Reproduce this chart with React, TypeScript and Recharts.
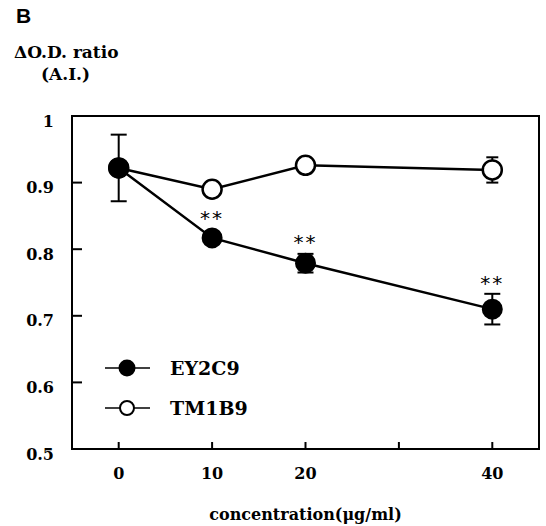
import {
  ComposedChart,
  Line,
  Scatter,
  XAxis,
  YAxis,
  ErrorBar,
  ReferenceArea,
  Legend,
} from 'recharts';

const conc = [0, 10, 20, 40];
const ey2c9 = [0.922, 0.817, 0.779, 0.71];
const ey2c9Err = [0.05, 0.008, 0.014, 0.023];
const tm1b9 = [0.922, 0.89, 0.926, 0.919];
const tm1b9Err = [0, 0.006, 0.006, 0.019];
const starConc = [10, 20, 40];
const starLevel = [0.847, 0.811, 0.749];
const xTicks = [0, 10, 20, 30, 40];
const xTickLabels = ['0', '10', '20', '', '40'];
const yTicks = [0.5, 0.6, 0.7, 0.8, 0.9, 1];
const yTickLabels = ['0.5', '0.6', '0.7', '0.8', '0.9', '1'];
const seriesNames = ['EY2C9', 'TM1B9'];

const SERIF = '"DejaVu Serif", serif';

const rows = conc.map((c, i) => ({
  x: c,
  ey: ey2c9[i],
  eyErr: ey2c9Err[i],
  tm: tm1b9[i],
  tmErr: tm1b9Err[i],
}));
const starRows = starConc.map((c, i) => ({ x: c, y: starLevel[i] }));

const StarShape = (props: any) => (
  <text
    x={props.cx}
    y={props.cy}
    textAnchor="middle"
    dominantBaseline="central"
    fontFamily='"DejaVu Sans", sans-serif'
    fontSize={20}
    letterSpacing={2}
    fill="#000"
  >
    **
  </text>
);

const renderLegend = () => (
  <svg width={170} height={76}>
    {seriesNames.map((name, i) => {
      const cy = 18 + i * 40;
      return (
        <g key={name}>
          <line x1={5} x2={50} y1={cy} y2={cy} stroke="#000" strokeWidth={1.5} />
          <circle
            cx={27}
            cy={cy}
            r={i === 0 ? 7.5 : 7}
            fill={i === 0 ? '#000' : '#fff'}
            stroke="#000"
            strokeWidth={2}
          />
          <text
            x={70}
            y={cy}
            dominantBaseline="central"
            fontFamily={SERIF}
            fontWeight="bold"
            fontSize={19}
            fill="#000"
          >
            {name}
          </text>
        </g>
      );
    })}
  </svg>
);

export default function App() {
  return (
    <div style={{ position: 'absolute', left: 0, top: 0, width: 546, height: 526, background: '#fff' }}>
      <div style={{ position: 'absolute', left: 16, top: 4, font: 'bold 21px "Liberation Sans", Arial, sans-serif' }}>B</div>
      <div style={{ position: 'absolute', left: 14, top: 42, font: `bold 17px ${SERIF}` }}>ΔO.D. ratio</div>
      <div style={{ position: 'absolute', left: 41, top: 64, font: `bold 17px ${SERIF}` }}>(A.I.)</div>
      <ComposedChart
        width={546}
        height={526}
        data={rows}
        margin={{ top: 116, right: 7, bottom: 0, left: 0 }}
      >
        <XAxis
          type="number"
          dataKey="x"
          domain={[-5, 45]}
          ticks={xTicks}
          tickFormatter={(v) => xTickLabels[xTicks.indexOf(v)]}
          height={77}
          tickSize={-7}
          tickMargin={26}
          stroke="#000"
          strokeWidth={2}
          tick={{ fill: '#000', fontFamily: SERIF, fontWeight: 'bold', fontSize: 16 }}
          label={{
            value: 'concentration(μg/ml)',
            position: 'insideBottom',
            offset: 6,
            fill: '#000',
            fontFamily: SERIF,
            fontWeight: 'bold',
            fontSize: 16,
          }}
        />
        <YAxis
          type="number"
          domain={[0.5, 1]}
          ticks={yTicks}
          tickFormatter={(v) => yTickLabels[yTicks.indexOf(v)]}
          width={72}
          tickSize={-10}
          tickMargin={28}
          stroke="#000"
          strokeWidth={2}
          tick={{ fill: '#000', fontFamily: SERIF, fontWeight: 'bold', fontSize: 16, dy: 5 }}
        />
        <ReferenceArea
          x1={-5}
          x2={45}
          y1={0.5}
          y2={1}
          fill="none"
          stroke="#000"
          strokeWidth={2}
          ifOverflow="visible"
        />
        <Legend
          layout="vertical"
          align="center"
          verticalAlign="middle"
          content={renderLegend}
          wrapperStyle={{ left: 100, top: 350, width: 170 }}
        />
        <Line
          dataKey="tm"
          stroke="#000"
          strokeWidth={2.5}
          dot={{ r: 9.5, fill: '#fff', stroke: '#000', strokeWidth: 2.5 }}
          isAnimationActive={false}
        >
          <ErrorBar dataKey="tmErr" direction="y" width={6} stroke="#000" strokeWidth={2} />
        </Line>
        <Line
          dataKey="ey"
          stroke="#000"
          strokeWidth={2.5}
          dot={{ r: 9.5, fill: '#000', stroke: '#000', strokeWidth: 2 }}
          isAnimationActive={false}
        >
          <ErrorBar dataKey="eyErr" direction="y" width={8} stroke="#000" strokeWidth={2} />
        </Line>
        <Scatter data={starRows} dataKey="y" shape={StarShape} isAnimationActive={false} />
      </ComposedChart>
    </div>
  );
}
